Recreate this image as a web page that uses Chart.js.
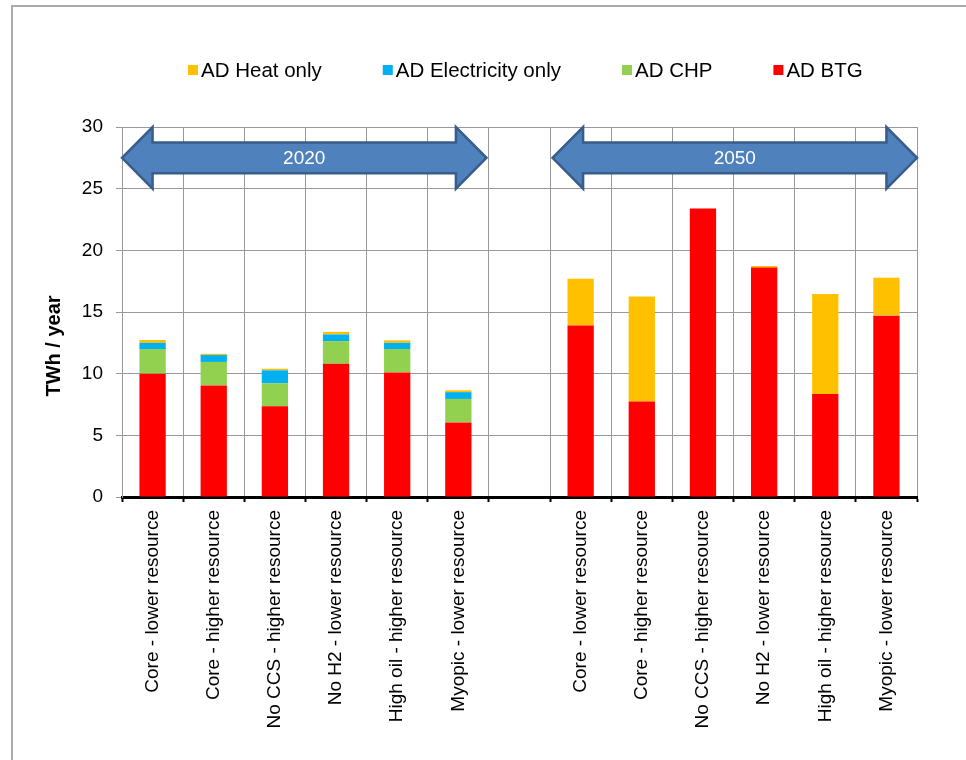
<!DOCTYPE html>
<html>
<head>
<meta charset="utf-8">
<script src="https://cdn.jsdelivr.net/npm/chart.js@4.4.1/dist/chart.umd.min.js"></script>
<style>
  html, body { margin: 0; padding: 0; background: #fff; }
  #wrap { position: relative; width: 966px; height: 760px; overflow: hidden; }
  #frame { position: absolute; left: 11px; top: 5px; width: 1000px; height: 800px;
           border-top: 2px solid #aaa; border-left: 2px solid #aaa; }
  #chart { position: absolute; left: 0; top: 0; }
</style>
</head>
<body>
<div id="wrap">
  <div id="frame"></div>
  <canvas id="chart" width="966" height="760"></canvas>
</div>
<script>
const categories = [
    'Core - lower resource', 'Core - higher resource', 'No CCS - higher resource',
    'No H2 - lower resource', 'High oil - higher resource', 'Myopic - lower resource',
    '',
    'Core - lower resource', 'Core - higher resource', 'No CCS - higher resource',
    'No H2 - lower resource', 'High oil - higher resource', 'Myopic - lower resource'
];
const adBTG  = [10.0, 9.05, 7.35, 10.8, 10.1, 6.05, null, 13.9, 7.75, 23.4, 18.6, 8.35, 14.7];
const adCHP  = [2.0, 1.9, 1.87, 1.84, 1.9, 1.9, null, 0, 0, 0, 0, 0, 0.03];
const adElec = [0.5, 0.56, 1.05, 0.54, 0.5, 0.55, null, 0, 0, 0, 0, 0, 0];
const adHeat = [0.23, 0.1, 0.13, 0.21, 0.2, 0.15, null, 3.8, 8.5, 0, 0.13, 8.1, 3.05];
const yTicks = [0, 5, 10, 15, 20, 25, 30];

// period arrows, in category units
const arrowLabels = ['2020', '2050'];
const arrowFrom = [-0.5, 6.54];
const arrowTo = [5.46, 12.5];

const FONT = "'Liberation Sans', Arial, sans-serif";

const periodArrows = {
    id: 'periodArrows',
    afterDatasetsDraw(chart) {
        const { ctx, scales: { x, y } } = chart;
        const yc = y.getPixelForValue(27.5);
        const yTop = y.getPixelForValue(30), yBot = y.getPixelForValue(25);
        const sTop = y.getPixelForValue(28.75), sBot = y.getPixelForValue(26.25);
        ctx.save();
        arrowLabels.forEach((lab, i) => {
            const x0 = x.getPixelForValue(arrowFrom[i]);
            const x1 = x.getPixelForValue(arrowTo[i]);
            const h = x.getPixelForValue(arrowFrom[i] + 0.5) - x0;
            ctx.beginPath();
            ctx.moveTo(x0, yc);
            ctx.lineTo(x0 + h, yTop);
            ctx.lineTo(x0 + h, sTop);
            ctx.lineTo(x1 - h, sTop);
            ctx.lineTo(x1 - h, yTop);
            ctx.lineTo(x1, yc);
            ctx.lineTo(x1 - h, yBot);
            ctx.lineTo(x1 - h, sBot);
            ctx.lineTo(x0 + h, sBot);
            ctx.lineTo(x0 + h, yBot);
            ctx.closePath();
            ctx.fillStyle = '#4F81BD';
            ctx.fill();
            ctx.lineWidth = 2.5;
            ctx.strokeStyle = '#385D8A';
            ctx.stroke();
            ctx.fillStyle = '#fff';
            ctx.font = '19px ' + FONT;
            ctx.textAlign = 'center';
            ctx.textBaseline = 'middle';
            ctx.fillText(lab, (x0 + x1) / 2, yc + 1);
        });
        ctx.restore();
    },
    afterDraw(chart) {
        const ctx = chart.ctx;
        ctx.save();
        // legend, top to bottom of the stack
        ctx.font = '20.5px ' + FONT;
        ctx.textBaseline = 'middle';
        ctx.textAlign = 'left';
        let lx = 188;
        const ly = 70;
        chart.data.datasets.slice().reverse().forEach(ds => {
            ctx.fillStyle = ds.backgroundColor;
            ctx.fillRect(lx, ly - 5, 10, 10);
            ctx.fillStyle = '#000';
            ctx.fillText(ds.label, lx + 13, ly + 1);
            lx += 13 + ctx.measureText(ds.label).width + 61;
        });
        // y axis title
        ctx.translate(54, 346);
        ctx.rotate(-Math.PI / 2);
        ctx.font = 'bold 20px ' + FONT;
        ctx.textAlign = 'center';
        ctx.fillText('TWh / year', 0, 0);
        ctx.restore();
    }
};

new Chart(document.getElementById('chart').getContext('2d'), {
    type: 'bar',
    data: {
        labels: categories,
        datasets: [
            { label: 'AD BTG', data: adBTG, backgroundColor: '#FF0000' },
            { label: 'AD CHP', data: adCHP, backgroundColor: '#92D050' },
            { label: 'AD Electricity only', data: adElec, backgroundColor: '#00B0F0' },
            { label: 'AD Heat only', data: adHeat, backgroundColor: '#FFC000' }
        ]
    },
    options: {
        responsive: false,
        animation: false,
        layout: { padding: { left: 40, right: 49, top: 127, bottom: 0 } },
        datasets: { bar: { categoryPercentage: 1, barPercentage: 0.43, borderWidth: 0 } },
        scales: {
            x: {
                stacked: true,
                afterFit: s => { s.height = 263; },
                grid: { color: '#999', offset: true, tickLength: 5, tickColor: '#000', tickWidth: 2 },
                border: { color: '#000', width: 3 },
                ticks: {
                    autoSkip: false, minRotation: 90, maxRotation: 90, padding: 8,
                    color: '#000', font: { family: FONT, size: 19 }
                }
            },
            y: {
                stacked: true,
                min: 0, max: 30,
                afterFit: s => { s.width = 82; },
                afterBuildTicks: s => { s.ticks = yTicks.map(v => ({ value: v })); },
                grid: { color: '#999', tickLength: 6, tickColor: '#999' },
                border: { color: '#999', width: 1 },
                ticks: { padding: 13, color: '#000', font: { family: FONT, size: 19 } }
            }
        },
        plugins: {
            legend: { display: false },
            tooltip: { enabled: false }
        }
    },
    plugins: [periodArrows]
});
</script>
</body>
</html>
